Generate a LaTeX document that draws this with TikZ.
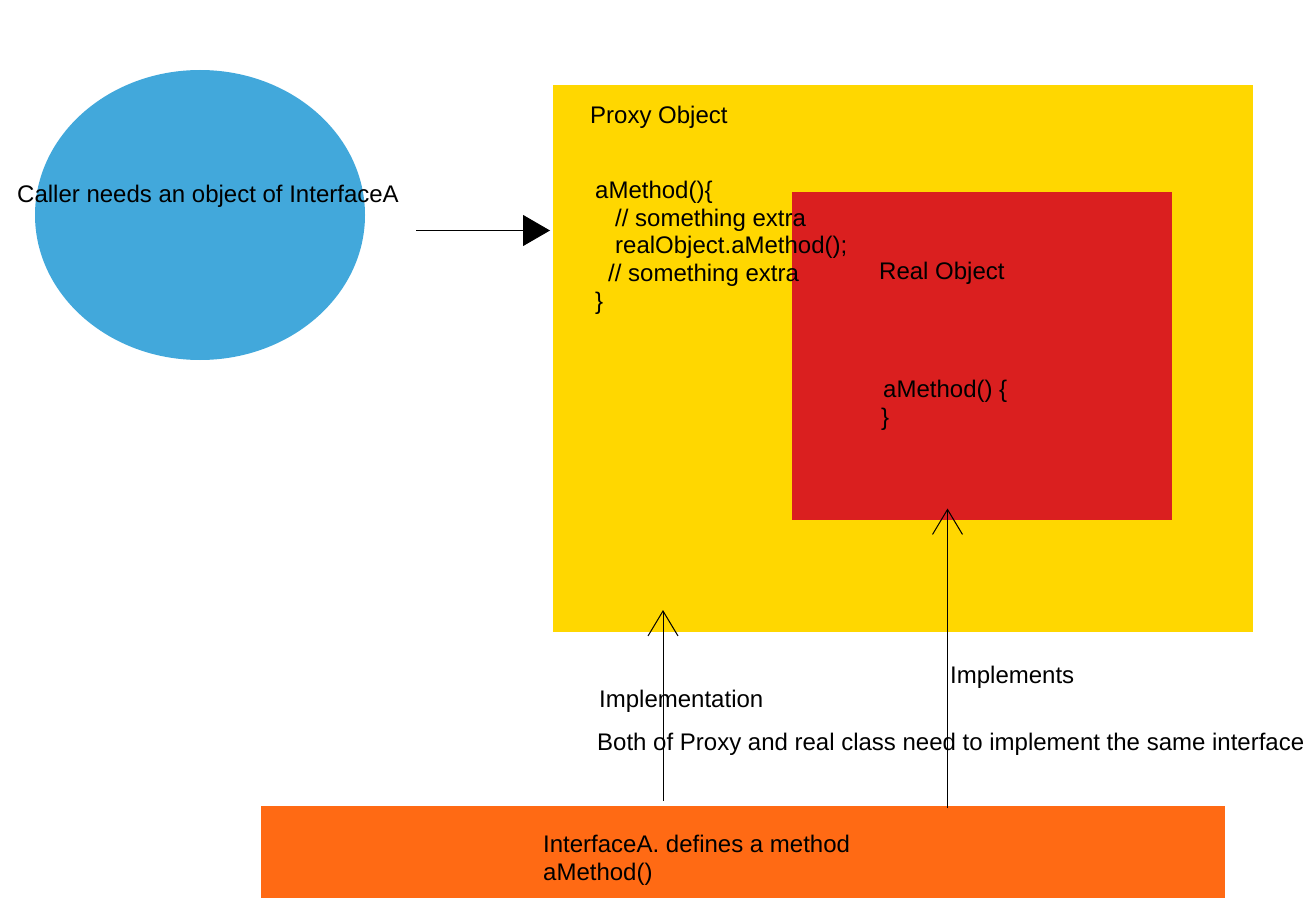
\documentclass[tikz,border=0pt]{standalone}
\usepackage{fontspec}
\setmainfont{Liberation Sans}
\usetikzlibrary{arrows.meta,shapes.geometric}
\definecolor{callerblue}{HTML}{42A8DB}
\definecolor{proxyyellow}{HTML}{FFD700}
\definecolor{realred}{HTML}{DA1F1F}
\definecolor{ifaceorange}{HTML}{FF6A14}
\tikzset{
  txt/.style={anchor=base west, inner sep=0pt, font=\fontsize{24}{27.7}\selectfont, text=black},
  box/.style={rectangle, draw=none, inner sep=0pt},
  openarrow/.style={line width=1pt, -{Straight Barb[length=25pt,width=30pt,line width=1pt]}},
  filledarrow/.style={line width=1pt, -{Triangle[length=27pt,width=31pt]}}
}
\begin{document}
\begin{tikzpicture}[x=1pt,y=-1pt]
\useasboundingbox (0,0) rectangle (1308,920);
% shapes
\node[ellipse, fill=callerblue, draw=none, minimum width=330pt, minimum height=290pt, inner sep=0pt] (caller) at (200,215) {};
\node[box, fill=proxyyellow, minimum width=700pt, minimum height=547pt] (proxy) at (903,358.5) {};
\node[box, fill=realred, minimum width=380pt, minimum height=328pt] (real) at (982,356) {};
\node[box, fill=ifaceorange, minimum width=964pt, minimum height=92pt] (iface) at (743,852) {};
% texts
\node[txt] (callertxt) at (17,203) {Caller needs an object of InterfaceA};
\node[txt] (proxytitle) at (590,124) {Proxy Object};
\node[txt] (code1) at (595,198) {aMethod()\{};
\node[txt] (code2) at (615,226) {// something extra};
\node[txt] (code3) at (615,253.5) {realObject.aMethod();};
\node[txt] (code4) at (608,281) {// something extra};
\node[txt] (code5) at (595,309) {\}};
\node[txt] (realtitle) at (879,279.5) {Real Object};
\node[txt] (rcode1) at (883,397.5) {aMethod() \{};
\node[txt] (rcode2) at (881,425) {\}};
\node[txt] (impl1) at (599,707) {Implementation};
\node[txt] (impl2) at (950,683) {Implements};
\node[txt] (both) at (597,750) {Both of Proxy and real class need to implement the same interface};
\node[txt] (iface1) at (543,852) {InterfaceA. defines a method};
\node[txt] (iface2) at (543,880) {aMethod()};
% connector end points
\coordinate (callerout) at (416,230.5);
\coordinate (proxyin) at (550,230.5);
\coordinate (ifaceL) at (663,800.5);
\coordinate (proxybottom) at (663,610);
\coordinate (ifaceR) at (947.5,808);
\coordinate (realbottom) at (947.5,508.5);
% connectors
\draw[filledarrow] (callerout) -- (proxyin);
\draw[openarrow] (ifaceL) -- (proxybottom);
\draw[openarrow] (ifaceR) -- (realbottom);
\end{tikzpicture}
\end{document}
